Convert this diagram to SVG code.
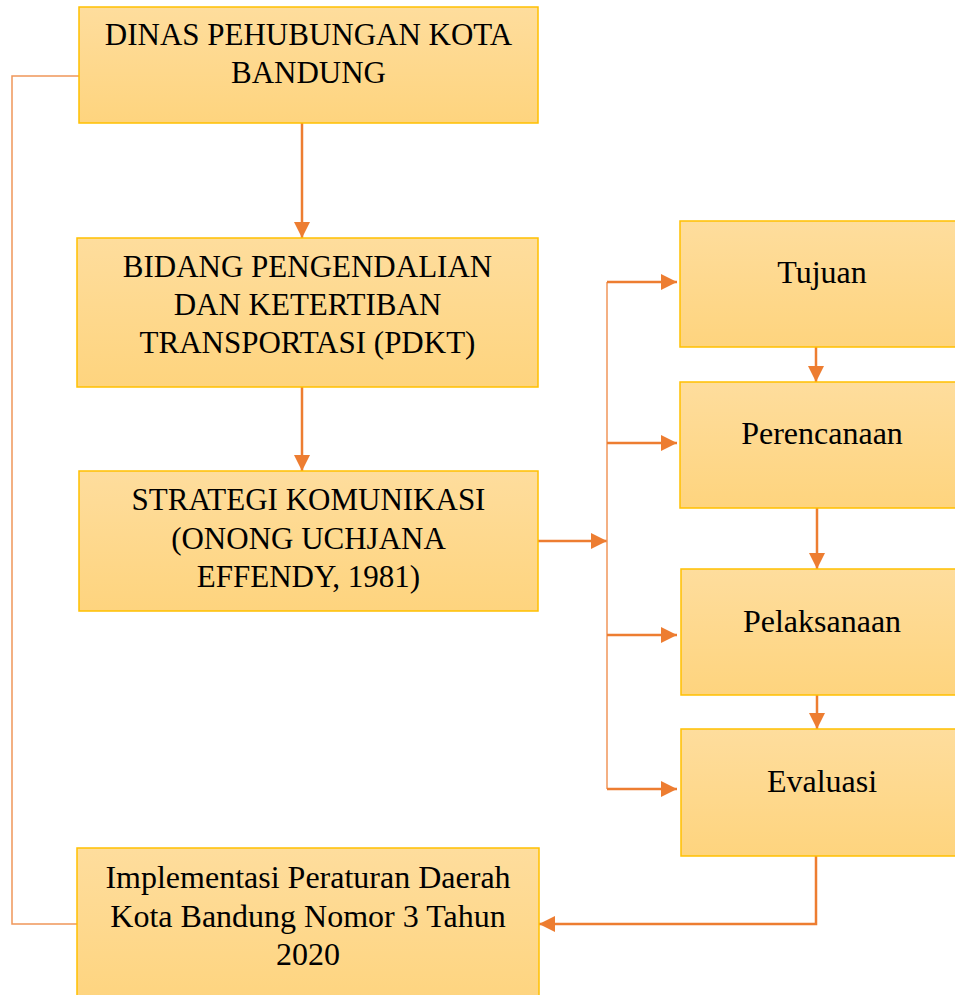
<svg xmlns="http://www.w3.org/2000/svg" width="955" height="995" viewBox="0 0 955 995">
<style>
.box{fill:url(#g);stroke:#FFC000;stroke-width:1.5}
.t{font-family:"Liberation Serif","Times New Roman",serif;font-size:31px;fill:#000;text-anchor:middle}
.m{font-size:32px}
.c{fill:none;stroke:#ED7D31;stroke-width:2.5}
.thin{fill:none;stroke:#F0965A;stroke-width:1.5}
</style>
<defs>
<linearGradient id="g" x1="0" y1="0" x2="0" y2="1">
<stop offset="0" stop-color="#FEDD9D"/>
<stop offset="1" stop-color="#FED47E"/>
</linearGradient>
<marker id="a" markerUnits="userSpaceOnUse" markerWidth="16" markerHeight="16" viewBox="0 0 16 16" refX="16" refY="8" orient="auto">
<path d="M0,0 L16,8 L0,16 Z" fill="#ED7D31"/>
</marker>
</defs>
<g id="connectors">
<path class="thin" d="M79,76 H12 V924 H77"/>
<path class="c" d="M302,123 V238" marker-end="url(#a)"/>
<path class="c" d="M302,387 V471" marker-end="url(#a)"/>
<path class="c" d="M538,541 H607" marker-end="url(#a)"/>
<path class="thin" d="M607,282 V789"/>
<path class="c" d="M607,282 H677" marker-end="url(#a)"/>
<path class="c" d="M607,443 H677" marker-end="url(#a)"/>
<path class="c" d="M607,635 H677" marker-end="url(#a)"/>
<path class="c" d="M607,789 H677" marker-end="url(#a)"/>
<path class="c" d="M816,347 V382" marker-end="url(#a)"/>
<path class="c" d="M817,508 V569" marker-end="url(#a)"/>
<path class="c" d="M817,695 V729" marker-end="url(#a)"/>
<path class="c" d="M816,856 V924 H539" marker-end="url(#a)"/>
</g>
<g id="dinas">
<rect class="box" x="79" y="7" width="459" height="116"/>
<text class="t" x="308.5" y="45">DINAS PEHUBUNGAN KOTA</text>
<text class="t" x="308.5" y="83">BANDUNG</text>
</g>
<g id="pdkt">
<rect class="box" x="77" y="238" width="461" height="149"/>
<text class="t" x="307.5" y="277">BIDANG PENGENDALIAN</text>
<text class="t" x="307.5" y="315">DAN KETERTIBAN</text>
<text class="t" x="307.5" y="353">TRANSPORTASI (PDKT)</text>
</g>
<g id="strategi">
<rect class="box" x="79" y="471" width="459" height="140"/>
<text class="t" x="308.5" y="510">STRATEGI KOMUNIKASI</text>
<text class="t" x="308.5" y="549">(ONONG UCHJANA</text>
<text class="t" x="308.5" y="587">EFFENDY, 1981)</text>
</g>
<g id="implementasi">
<rect class="box" x="77" y="848" width="462" height="160"/>
<text class="t m" x="308" y="888">Implementasi Peraturan Daerah</text>
<text class="t m" x="308" y="927">Kota Bandung Nomor 3 Tahun</text>
<text class="t m" x="308" y="965">2020</text>
</g>
<g id="tujuan">
<rect class="box" x="680" y="221" width="284" height="126"/>
<text class="t m" x="822" y="283">Tujuan</text>
</g>
<g id="perencanaan">
<rect class="box" x="680" y="382" width="284" height="126"/>
<text class="t m" x="822" y="444">Perencanaan</text>
</g>
<g id="pelaksanaan">
<rect class="box" x="681" y="569" width="284" height="126"/>
<text class="t m" x="822" y="632">Pelaksanaan</text>
</g>
<g id="evaluasi">
<rect class="box" x="681" y="729" width="284" height="127"/>
<text class="t m" x="822" y="792">Evaluasi</text>
</g>
</svg>
